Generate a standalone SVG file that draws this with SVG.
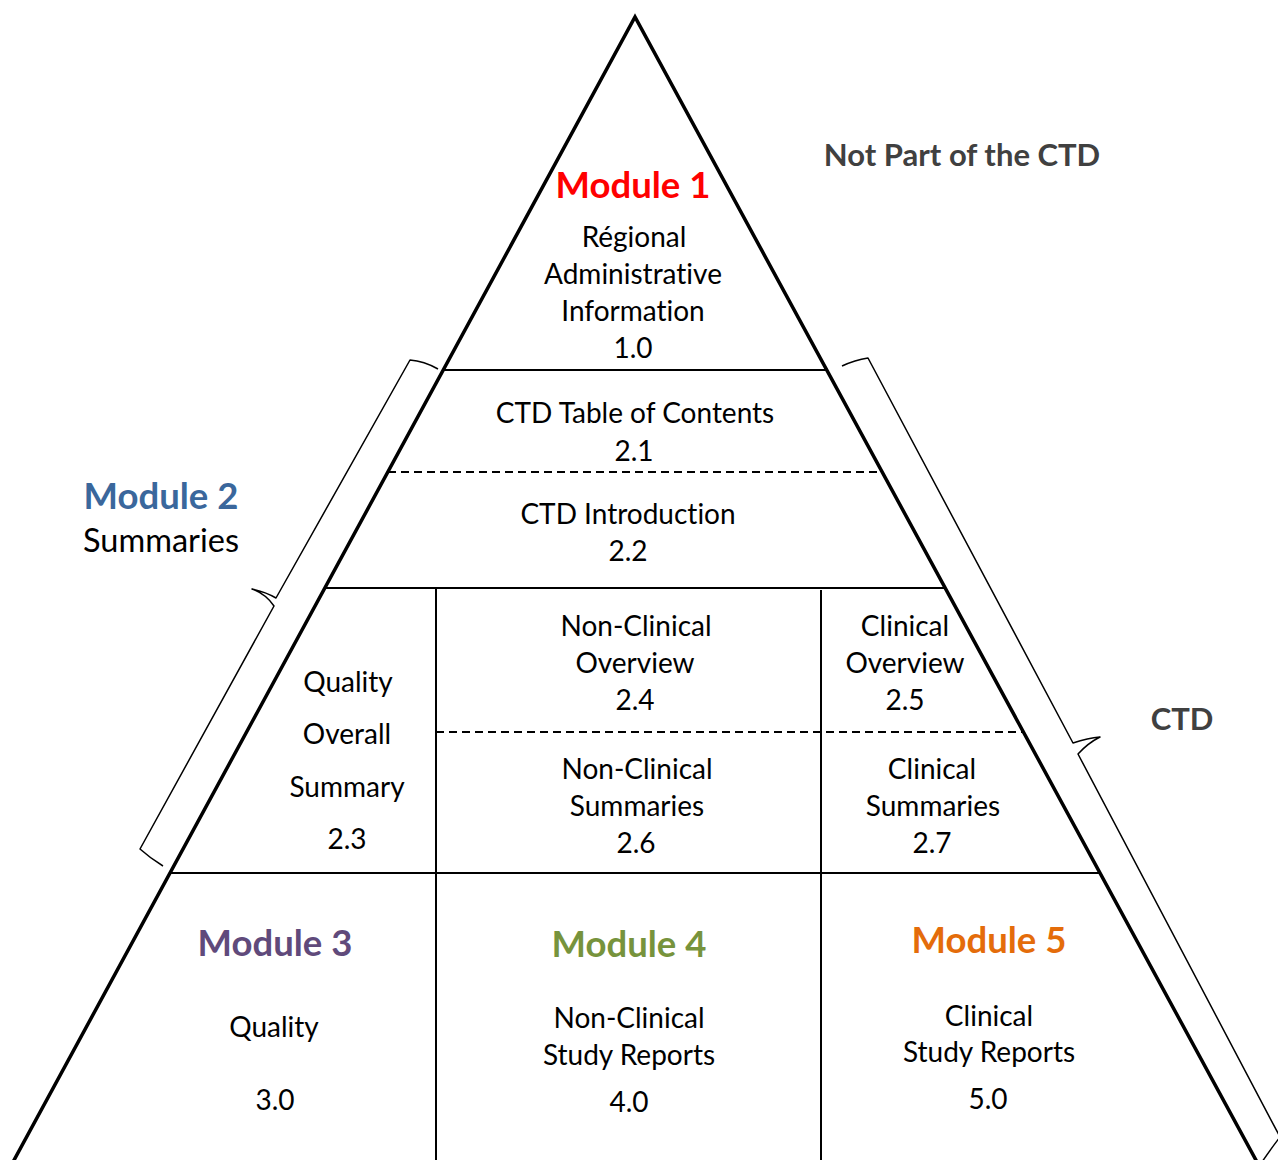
<svg xmlns="http://www.w3.org/2000/svg" width="1278" height="1160" viewBox="0 0 1278 1160">
<style>
.edge{fill:none;stroke:#000;stroke-width:3.5;stroke-linejoin:miter}
.line{fill:none;stroke:#000;stroke-width:2}
.dash{fill:none;stroke:#000;stroke-width:2;stroke-dasharray:8 5}
.brace{fill:none;stroke:#000;stroke-width:1.5;stroke-linejoin:round}
text{font-family:Lato,"Liberation Sans",sans-serif;text-anchor:middle;font-variant-ligatures:none}
.t{font-size:28px;fill:#000}
.h{font-size:36.5px;font-weight:bold}
.g{font-size:31px;font-weight:bold;fill:#404040}
.s{font-size:32.5px;fill:#000}
</style>
<rect width="1278" height="1160" fill="#fff"/>
<g id="connectors">
<path class="edge" d="M13,1162 L635,17 L1257,1162"/>
<line class="line" x1="443" y1="370" x2="827" y2="370"/>
<line class="dash" x1="388" y1="472" x2="882" y2="472"/>
<line class="line" x1="324" y1="588" x2="946" y2="588"/>
<line class="dash" x1="436" y1="732" x2="1023" y2="732"/>
<line class="line" x1="170" y1="873" x2="1100" y2="873"/>
<line class="line" x1="436" y1="588" x2="436" y2="1160"/>
<line class="line" x1="821" y1="590" x2="821" y2="1160"/>
<path class="brace" d="M438,369 Q424,361 410,360 L276,598 Q266,592 252,589 Q266,594 274,606 L140,849 Q150,858 163,866"/>
<path class="brace" d="M842,366 Q855,360 868,358 L1073,743 Q1088,738 1100,737 Q1088,743 1078,754 L1280,1137 Q1270,1150 1262,1162"/>
</g>
<g id="outside-labels">
<text class="g" x="962" y="166">Not Part of the CTD</text>
<text class="g" x="1182" y="730">CTD</text>
</g>
<g id="module1">
<text class="h" x="633" y="198" fill="#FF0000">Module 1</text>
<text class="t" x="634" y="247">Régional</text>
<text class="t" x="633" y="284">Administrative</text>
<text class="t" x="633" y="321">Information</text>
<text class="t" x="633" y="358">1.0</text>
</g>
<g id="module2">
<text class="h" x="161" y="509" fill="#3A679C">Module 2</text>
<text class="s" x="161" y="552">Summaries</text>
</g>
<g id="section-2-1">
<text class="t" x="635" y="423">CTD Table of Contents</text>
<text class="t" x="634" y="461">2.1</text>
</g>
<g id="section-2-2">
<text class="t" x="628" y="524">CTD Introduction</text>
<text class="t" x="628" y="561">2.2</text>
</g>
<g id="section-2-3">
<text class="t" x="348" y="692">Quality</text>
<text class="t" x="347" y="744">Overall</text>
<text class="t" x="347" y="797">Summary</text>
<text class="t" x="347" y="849">2.3</text>
</g>
<g id="section-2-4">
<text class="t" x="636" y="636">Non-Clinical</text>
<text class="t" x="635" y="673">Overview</text>
<text class="t" x="635" y="710">2.4</text>
</g>
<g id="section-2-5">
<text class="t" x="905" y="636">Clinical</text>
<text class="t" x="905" y="673">Overview</text>
<text class="t" x="905" y="710">2.5</text>
</g>
<g id="section-2-6">
<text class="t" x="637" y="779">Non-Clinical</text>
<text class="t" x="637" y="816">Summaries</text>
<text class="t" x="636" y="853">2.6</text>
</g>
<g id="section-2-7">
<text class="t" x="932" y="779">Clinical</text>
<text class="t" x="933" y="816">Summaries</text>
<text class="t" x="932" y="853">2.7</text>
</g>
<g id="module3">
<text class="h" x="275" y="956" fill="#604A7B">Module 3</text>
<text class="t" x="274" y="1037">Quality</text>
<text class="t" x="275" y="1110">3.0</text>
</g>
<g id="module4">
<text class="h" x="629" y="957" fill="#77933C">Module 4</text>
<text class="t" x="629" y="1028">Non-Clinical</text>
<text class="t" x="629" y="1065">Study Reports</text>
<text class="t" x="629" y="1112">4.0</text>
</g>
<g id="module5">
<text class="h" x="989" y="953" fill="#E46C0A">Module 5</text>
<text class="t" x="989" y="1026">Clinical</text>
<text class="t" x="989" y="1062">Study Reports</text>
<text class="t" x="988" y="1109">5.0</text>
</g>
</svg>
